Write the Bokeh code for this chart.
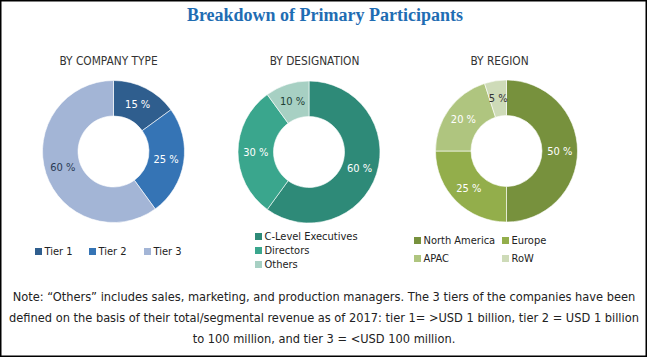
import math
from bokeh.plotting import figure
from bokeh.models import Range1d
from bokeh.core.properties import value
from bokeh.embed import file_html
from bokeh.resources import INLINE

W, H = 647, 357

# ---------------- data ----------------
title = "Breakdown of Primary Participants"

company_labels = ["Tier 1", "Tier 2", "Tier 3"]
company_values = [15, 25, 60]
company_colors = ["#2F5E8E", "#3574B5", "#A3B5D6"]
company_text_colors = ["white", "white", "#2A3A55"]

designation_labels = ["C-Level Executives", "Directors", "Others"]
designation_values = [60, 30, 10]
designation_colors = ["#2E8A78", "#3AA68D", "#A7D0C3"]
designation_text_colors = ["white", "white", "#1E3F36"]

region_labels = ["North America", "Europe", "APAC", "RoW"]
region_values = [50, 25, 20, 5]
region_colors = ["#77913D", "#93AE4B", "#AFC57F", "#CEDBB8"]
region_text_colors = ["white", "white", "white", "#333333"]

subtitles = ["BY COMPANY TYPE", "BY DESIGNATION", "BY REGION"]

note_lines = [
    "Note: \u201cOthers\u201d includes sales, marketing, and production managers. The 3 tiers of the companies have been",
    "defined on the basis of their total/segmental revenue as of 2017: tier 1= >USD 1 billion, tier 2 = USD 1 billion",
    "to 100 million, and tier 3 = <USD 100 million.",
]

# ---------------- layout ----------------
FONT = "DejaVu Sans Condensed"
centers = [(113, 151), (308.5, 151.5), (506, 150.5)]
R_OUT, R_IN = 71, 35.5
subtitle_pos = [(108, 60), (314, 60), (499, 60)]

p = figure(width=W, height=H, output_backend="svg", toolbar_location=None,
           x_range=Range1d(0, W), y_range=Range1d(0, H),
           x_axis_location=None, y_axis_location=None,
           min_border=0, min_border_left=0, min_border_right=0,
           min_border_top=0, min_border_bottom=0)
p.grid.visible = False
p.outline_line_color = "black"
p.outline_line_width = 2
p.background_fill_color = "white"
p.border_fill_color = "white"


def Y(y):
    return H - y


def donut(cx, cy, vals, colors, tcolors):
    total = float(sum(vals))
    starts, ends, mids = [], [], []
    acc = 0.0
    for v in vals:
        a0 = math.pi / 2 - 2 * math.pi * acc / total
        acc += v
        a1 = math.pi / 2 - 2 * math.pi * acc / total
        starts.append(a0)
        ends.append(a1)
        mids.append((a0 + a1) / 2)
    p.annular_wedge(x=[cx] * len(vals), y=[Y(cy)] * len(vals),
                    inner_radius=R_IN, outer_radius=R_OUT,
                    start_angle=starts, end_angle=ends, direction="clock",
                    fill_color=colors, line_color="white", line_width=0.6)
    rm = (R_IN + R_OUT) / 2
    xs = [cx + rm * math.cos(m) for m in mids]
    ys = [Y(cy) + rm * math.sin(m) for m in mids]
    p.text(x=xs, y=ys, text=[f"{v} %" for v in vals], text_color=tcolors,
           text_font=value(FONT), text_font_size="11px",
           text_align="center", text_baseline="middle")


donut(*centers[0], company_values, company_colors, company_text_colors)
donut(*centers[1], designation_values, designation_colors, designation_text_colors)
donut(*centers[2], region_values, region_colors, region_text_colors)

# title
p.text(x=[W / 2 + 1], y=[Y(14)], text=[title], text_color="#1F6DB3",
       text_font=value("Liberation Serif"), text_font_style="bold",
       text_font_size="18px", text_align="center", text_baseline="middle")

# subtitles
p.text(x=[s[0] for s in subtitle_pos], y=[Y(s[1]) for s in subtitle_pos],
       text=subtitles, text_color="#333333", text_font=value(FONT),
       text_font_size="11.8px", text_align="center", text_baseline="middle")


def legend(labels, colors, positions):
    sx = [q[0] for q in positions]
    sy = [Y(q[1]) for q in positions]
    p.scatter(x=sx, y=sy, marker="square", size=7, fill_color=colors,
              line_color=None)
    p.text(x=[x + 6 for x in sx], y=sy, text=labels, text_color="#222222",
           text_font=value(FONT), text_font_size="11px",
           text_align="left", text_baseline="middle")


legend(company_labels, company_colors, [(38, 251), (92, 251), (147, 251)])
legend(designation_labels, designation_colors, [(258, 236), (258, 250), (258, 264)])
legend(region_labels, region_colors, [(417, 240), (505, 240), (417, 258), (505, 258)])

# note
p.text(x=[W / 2] * 3, y=[Y(296), Y(317), Y(338)], text=note_lines,
       text_color="#222222", text_font=value(FONT), text_font_size="12.7px",
       text_align="center", text_baseline="middle")

open("out.html", "w").write(file_html(p, INLINE))
